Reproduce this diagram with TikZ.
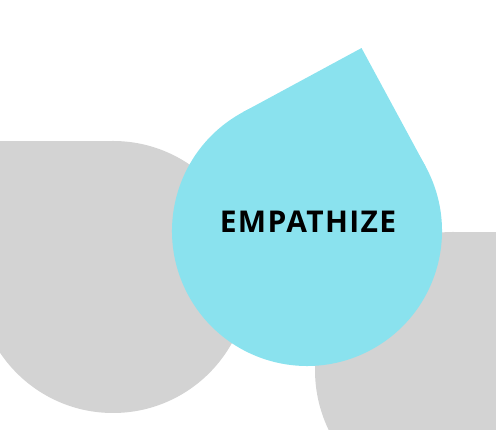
\documentclass[tikz,border=0pt]{standalone}
\usepackage{fontspec}
\newfontfamily\stagefont[LetterSpace=4.5]{Open Sans}
\usetikzlibrary{positioning}
\definecolor{stage}{RGB}{138,226,238}
\definecolor{idle}{RGB}{211,211,211}

\begin{document}
\begin{tikzpicture}[x=1pt, y=1pt]
  \tikzstyle{drop} = [draw=none]
  \tikzstyle{label} = [text=black, font=\stagefont\bfseries\fontsize{30}{36}\selectfont]
      \useasboundingbox (0,0) rectangle (496,430);
      \clip (0,0) rectangle (496,430);

  % grey drops
      \begin{scope}[shift={(113,153)}]
        \fill [idle] (0,0) circle (136);
        \fill [idle] (0,0) rectangle (-136,136);
      \end{scope}
      \begin{scope}[shift={(453,60)}]
        \fill [idle] (0,0) circle (138);
        \fill [idle] (0,0) rectangle (138,138);
      \end{scope}

  % main drop
      \begin{scope}[shift={(307,199)}, rotate=28.4]
        \fill [stage] (0,0) circle (135);
        \fill [stage] (0,0) rectangle (135,135);
      \end{scope}

  % Place nodes
      \node [label] (empathize) at (308,208.5) {EMPATHIZE};

\end{tikzpicture}
\end{document}
